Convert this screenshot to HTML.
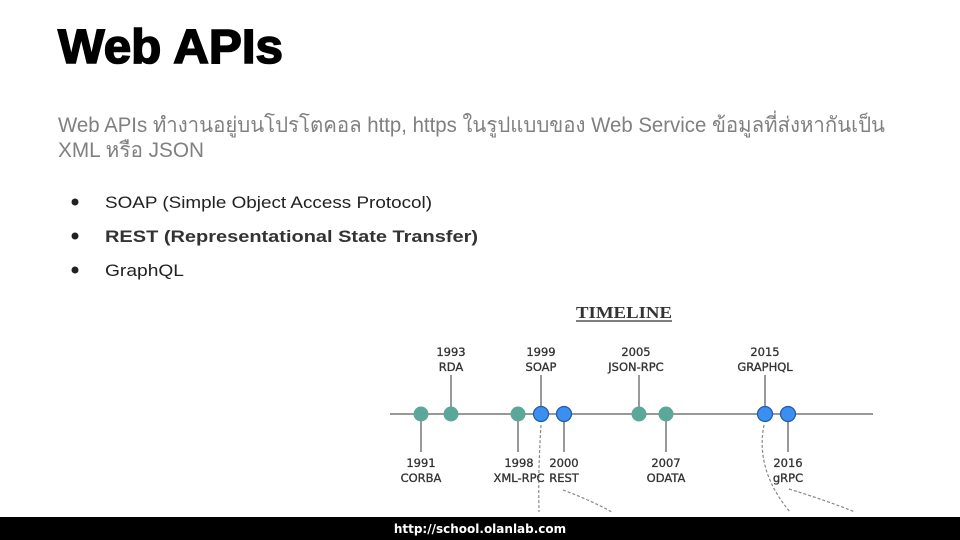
<!DOCTYPE html>
<html><head><meta charset="utf-8"><style>
html,body{margin:0;padding:0;background:#fff;}
svg{display:block}
</style></head><body>
<svg width="960" height="540" viewBox="0 0 960 540" xmlns="http://www.w3.org/2000/svg">
<rect width="960" height="540" fill="#fff"/>
<text x="58" y="63" font-family="Liberation Sans, sans-serif" font-weight="bold" font-size="48" textLength="225" lengthAdjust="spacingAndGlyphs" fill="#000" stroke="#000" stroke-width="1.6">Web APIs</text>
<g font-family="Liberation Sans, Noto Sans CJK SC, sans-serif" fill="#808080" font-size="21">
<text x="58" y="132" textLength="827" lengthAdjust="spacingAndGlyphs">Web APIs ทำงานอยู่บนโปรโตคอล http, https ในรูปแบบของ  Web Service ข้อมูลที่ส่งหากันเป็น</text>
<text x="58" y="157" textLength="146" lengthAdjust="spacingAndGlyphs">XML หรือ JSON</text>
</g>
<g font-family="Liberation Sans, sans-serif" fill="#222" font-size="17">
<circle cx="75" cy="202" r="3.5" fill="#222"/>
<circle cx="75" cy="236" r="3.5" fill="#222"/>
<circle cx="75" cy="270" r="3.5" fill="#222"/>
<text x="105" y="208" textLength="327" lengthAdjust="spacingAndGlyphs">SOAP (Simple Object Access Protocol)</text>
<text x="105" y="242" font-weight="bold" fill="#333" textLength="373" lengthAdjust="spacingAndGlyphs">REST (Representational State Transfer)</text>
<text x="105" y="276" textLength="79" lengthAdjust="spacingAndGlyphs">GraphQL</text>
</g>
<text x="576" y="318" font-family="Liberation Serif, serif" font-weight="bold" font-size="17" fill="#333" textLength="96" lengthAdjust="spacingAndGlyphs">TIMELINE</text>
<line x1="576" y1="321" x2="672" y2="321" stroke="#333" stroke-width="1.3"/>
<line x1="390" y1="414" x2="873" y2="414" stroke="#777" stroke-width="1.5"/>
<g stroke="#777" stroke-width="1.5">
<line x1="451" y1="375" x2="451" y2="414"/>
<line x1="541" y1="375" x2="541" y2="414"/>
<line x1="639" y1="375" x2="639" y2="414"/>
<line x1="765" y1="375" x2="765" y2="414"/>
<line x1="421" y1="414" x2="421" y2="452"/>
<line x1="518" y1="414" x2="518" y2="452"/>
<line x1="564" y1="414" x2="564" y2="452"/>
<line x1="666" y1="414" x2="666" y2="452"/>
<line x1="788" y1="414" x2="788" y2="452"/>
</g>
<g fill="none" stroke="#888" stroke-width="1.2" stroke-dasharray="3,2">
<path d="M541 425 Q538 470 539 512"/>
<path d="M563 490 Q590 500 612 512"/>
<path d="M764 425 Q755 470 790 512"/>
<path d="M789 489 Q825 500 855 512"/>
</g>
<g fill="#5ba89a">
<circle cx="421" cy="414" r="7.5"/><circle cx="451" cy="414" r="7.5"/><circle cx="518" cy="414" r="7.5"/><circle cx="639" cy="414" r="7.5"/><circle cx="666" cy="414" r="7.5"/>
</g>
<g fill="#3b8ff0" stroke="#1f5aa8" stroke-width="1.2">
<circle cx="541" cy="414" r="7.5"/><circle cx="564" cy="414" r="7.5"/><circle cx="765" cy="414" r="7.5"/><circle cx="788" cy="414" r="7.5"/>
</g>
<g font-family="DejaVu Sans, sans-serif" font-size="11.5" fill="#333" stroke="#333" stroke-width="0.3" text-anchor="middle">
<text x="451" y="356">1993</text><text x="451" y="371">RDA</text>
<text x="541" y="356">1999</text><text x="541" y="371">SOAP</text>
<text x="636" y="356">2005</text><text x="636" y="371">JSON-RPC</text>
<text x="765" y="356">2015</text><text x="765" y="371">GRAPHQL</text>
<text x="421" y="467">1991</text><text x="421" y="482">CORBA</text>
<text x="519" y="467">1998</text><text x="519" y="482">XML-RPC</text>
<text x="564" y="467">2000</text><text x="564" y="482">REST</text>
<text x="666" y="467">2007</text><text x="666" y="482">ODATA</text>
<text x="788" y="467">2016</text><text x="788" y="482">gRPC</text>
</g>
<rect x="0" y="517" width="960" height="23" fill="#000"/>
<text x="480" y="533" font-family="DejaVu Sans, sans-serif" font-weight="bold" font-size="12" fill="#fff" text-anchor="middle">http://school.olanlab.com</text>
</svg>
</body></html>
